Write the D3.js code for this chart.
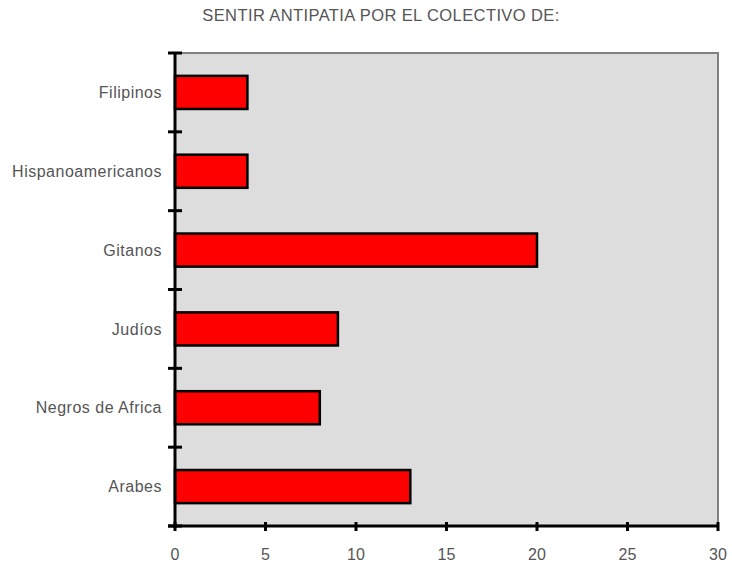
<!DOCTYPE html>
<html>
<head>
<meta charset="utf-8">
<script src="https://cdnjs.cloudflare.com/ajax/libs/d3/7.8.5/d3.min.js"></script>
<style>
body{margin:0;background:#fff;}
text{font-family:"Liberation Sans",Arial,sans-serif;}
</style>
</head>
<body>
<script>
// data
var categories=["Filipinos","Hispanoamericanos","Gitanos","Judíos","Negros de Africa","Arabes"];
var values=[4,4,20,9,8,13];
var xTicks=[0,5,10,15,20,25,30];
var title="SENTIR ANTIPATIA POR EL COLECTIVO DE:";

var width=732,height=564;
// plot edges (note: "top" is reserved on window, so use other names)
var pLeft=175,pTop=53,pRight=718,pBottom=526;

var svg=d3.select("body").append("svg")
.attr("width",width)
.attr("height",height);

var x=d3.scaleLinear().domain([0,30]).range([pLeft,pRight]);
var y=d3.scaleBand().domain(categories).range([pTop,pBottom]).paddingInner(0).paddingOuter(0);

// plot background
svg.append("rect")
.attr("x",pLeft).attr("y",pTop)
.attr("width",pRight-pLeft).attr("height",pBottom-pTop)
.attr("fill","#dddddd");

// gray frame top and right
svg.append("line").attr("x1",pLeft).attr("x2",pRight+1).attr("y1",pTop).attr("y2",pTop)
.attr("stroke","#808080").attr("stroke-width",2);
svg.append("line").attr("x1",pRight).attr("x2",pRight).attr("y1",pTop).attr("y2",pBottom)
.attr("stroke","#808080").attr("stroke-width",2);

// bars
var bh=y.bandwidth()*0.42;
svg.selectAll("rect.bar")
.data(values)
.enter()
.append("rect")
.attr("class","bar")
.attr("x",x(0))
.attr("y",function(d,i){return y(categories[i])+(y.bandwidth()-bh)/2})
.attr("width",function(d){return x(d)-x(0)})
.attr("height",bh)
.attr("fill","#ff0000")
.attr("stroke","#000")
.attr("stroke-width",2.5);

// y axis
var yAxis=svg.append("g").attr("transform","translate("+pLeft+",0)");
yAxis.append("line").attr("x1",0).attr("x2",0).attr("y1",pTop-1).attr("y2",pBottom+2)
.attr("stroke","#000").attr("stroke-width",3);
var bounds=categories.map(function(c){return y(c)}).concat([pBottom]);
yAxis.selectAll("line.tick")
.data(bounds)
.enter()
.append("line")
.attr("class","tick")
.attr("x1",-7).attr("x2",7)
.attr("y1",function(d){return d}).attr("y2",function(d){return d})
.attr("stroke","#000").attr("stroke-width",3);
yAxis.selectAll("text")
.data(categories)
.enter()
.append("text")
.attr("x",-13)
.attr("y",function(d){return y(d)+y.bandwidth()/2})
.attr("dy","0.35em")
.attr("text-anchor","end")
.attr("font-size",16)
.attr("letter-spacing",0.5)
.attr("fill","#555")
.text(function(d){return d});

// x axis
var xAxis=svg.append("g").attr("transform","translate(0,"+pBottom+")");
xAxis.append("line").attr("x1",pLeft-7).attr("x2",pRight+1).attr("y1",0).attr("y2",0)
.attr("stroke","#000").attr("stroke-width",3);
xAxis.selectAll("line.tick")
.data(xTicks)
.enter()
.append("line")
.attr("class","tick")
.attr("x1",function(d){return x(d)}).attr("x2",function(d){return x(d)})
.attr("y1",-4).attr("y2",5)
.attr("stroke","#000").attr("stroke-width",3);
xAxis.selectAll("text")
.data(xTicks)
.enter()
.append("text")
.attr("x",function(d){return x(d)})
.attr("y",34)
.attr("text-anchor","middle")
.attr("font-size",16)
.attr("fill","#555")
.text(function(d){return d});

// title
svg.append("text")
.attr("x",381).attr("y",21)
.attr("text-anchor","middle")
.attr("font-size",16.5)
.attr("letter-spacing",0.4)
.attr("fill","#555")
.text(title);
</script>
</body>
</html>
